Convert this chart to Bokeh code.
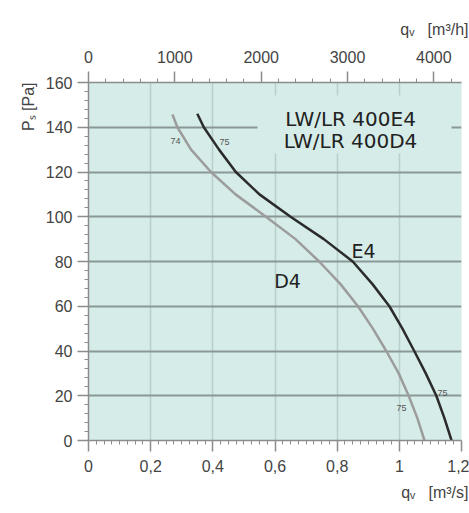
from math import pi
import numpy as np
from bokeh.plotting import figure
from bokeh.models import Range1d, LinearAxis, FixedTicker, CustomJSTickFormatter, Label, Title
from bokeh.embed import file_html
from bokeh.resources import INLINE

# ---- data ----
q_e4 = [0.35, 0.371, 0.42, 0.474, 0.55, 0.65, 0.757, 0.85, 0.913, 0.968, 1.01, 1.048, 1.085, 1.119, 1.145, 1.168]
p_e4 = [146, 140, 130, 120, 110, 100, 90, 80, 70, 60, 50, 40, 30, 20, 10, 0]
q_d4 = [0.27, 0.286, 0.33, 0.394, 0.473, 0.571, 0.666, 0.742, 0.81, 0.867, 0.915, 0.958, 0.998, 1.03, 1.058, 1.081]
p_d4 = [145.7, 140, 130, 120, 110, 100, 90, 80, 70, 60, 50, 40, 30, 20, 10, 0]
x_ticks = [0, 0.2, 0.4, 0.6, 0.8, 1.0, 1.2]
top_ticks = [0, 1000, 2000, 3000, 4000]
y_ticks = [0, 20, 40, 60, 80, 100, 120, 140, 160]
title_lines = ["LW/LR 400E4", "LW/LR 400D4"]
y_title = "Pₛ [Pa]"
top_title = "qᵥ \u00a0\u00a0[m³/h]"
bottom_title = "qᵥ \u00a0\u00a0[m³/s]"

BG = "#d5ece8"
AX = "#8c8c8c"
TXT = "#444444"

p = figure(width=469, height=513, x_range=Range1d(0, 1.2), y_range=Range1d(0, 160),
           output_backend="svg", toolbar_location=None,
           min_border_left=88, min_border_top=82, min_border_right=8, min_border_bottom=73)
p.background_fill_color = BG
p.outline_line_color = None

# image-pixel -> data helpers for annotation placement
def dx(px):
    return (px - 88) / 310.8

def dy(py):
    return (440 - py) / 358 * 160

bottom = p.below[0]
left = p.left[0]
p.extra_x_ranges = {"h": Range1d(0, 4320)}
top = LinearAxis(x_range_name="h")
p.add_layout(top, "above")

bottom.ticker = FixedTicker(ticks=x_ticks, minor_ticks=list(np.arange(0, 1.2001, 0.025)))
bottom.formatter = CustomJSTickFormatter(code="var v=Math.round(tick*10)/10; return v.toString().replace('.', ',');")
top.ticker = FixedTicker(ticks=top_ticks, minor_ticks=list(range(0, 4400, 200)))
left.ticker = FixedTicker(ticks=y_ticks, minor_ticks=list(range(0, 161, 4)))

for ax in [bottom, top, left]:
    ax.axis_line_color = AX
    ax.axis_line_width = 1.5
    ax.major_tick_line_color = AX
    ax.major_tick_line_width = 1.5
    ax.minor_tick_line_color = AX
    ax.major_tick_in = 0
    ax.major_tick_out = 11
    ax.minor_tick_in = 0
    ax.minor_tick_out = 4
    ax.major_label_text_font = "Liberation Sans"
    ax.major_label_text_font_size = "16px"
    ax.major_label_text_color = TXT
bottom.major_label_standoff = 8
top.major_label_standoff = 9
left.major_label_standoff = 5

p.ygrid.ticker = FixedTicker(ticks=y_ticks)
p.ygrid.grid_line_color = "#8a9896"
p.ygrid.grid_line_width = 2
p.xgrid.ticker = FixedTicker(ticks=x_ticks)
p.xgrid.grid_line_color = "#b8cfcb"
p.xgrid.grid_line_width = 1.5

# box behind the title text
p.quad(left=[dx(257)], right=[dx(451)], bottom=[dy(153)], top=[dy(95)],
       fill_color=BG, line_color=None)

p.line(q_d4, p_d4, line_color="#9c9c9c", line_width=2.5)
p.line(q_e4, p_e4, line_color="#2b2b2b", line_width=2.5)

def lab(x, y, t, size, font="Liberation Sans", color=TXT, align="center"):
    p.add_layout(Label(x=x, y=y, text=t, text_font=font, text_font_size=size,
                       text_color=color, text_align=align, text_baseline="middle"))

lab(dx(350), dy(118), title_lines[0], "20px", font="DejaVu Sans", color="#222222")
lab(dx(350), dy(140), title_lines[1], "20px", font="DejaVu Sans", color="#222222")
lab(dx(363), dy(250.5), "E4", "19px", font="DejaVu Sans", color="#222222")
lab(dx(287), dy(280.5), "D4", "19px", font="DejaVu Sans", color="#222222")

lab(dx(175), dy(140), "74", "9px", color="#555555")
lab(dx(224), dy(141), "75", "9px", color="#555555")
lab(dx(442), dy(392), "75", "9px", color="#555555")
lab(dx(401), dy(407), "75", "9px", color="#555555")

# axis titles as side titles
def side_title(t, loc, standoff, offset):
    ttl = Title(text=t, align="right", text_font="Liberation Sans", text_font_size="16px",
                text_font_style="normal", text_color=TXT, standoff=standoff, offset=offset)
    p.add_layout(ttl, loc)

p.title.visible = False
side_title(top_title, "above", 20, -7)
side_title(bottom_title, "below", 15, -7)
side_title(y_title, "left", 12, 0)

open("out.html", "w").write(file_html(p, INLINE))
